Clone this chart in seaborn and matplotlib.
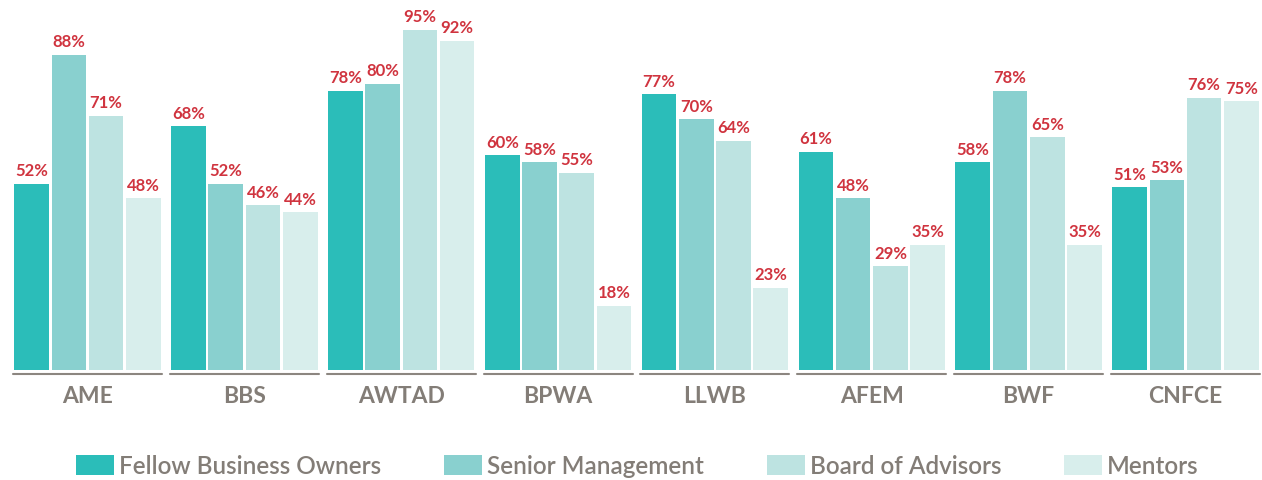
import pandas as pd
import seaborn as sns
from matplotlib import pyplot as plt

# values (percent)
groups = ['AME', 'BBS', 'AWTAD', 'BPWA', 'LLWB', 'AFEM', 'BWF', 'CNFCE']
sources = ['Fellow Business Owners', 'Senior Management', 'Board of Advisors', 'Mentors']
fellow_owners = [52, 68, 78, 60, 77, 61, 58, 51]
senior_mgmt = [88, 52, 80, 58, 70, 48, 78, 53]
board_advisors = [71, 46, 95, 55, 64, 29, 65, 76]
mentors = [48, 44, 92, 18, 23, 35, 35, 75]

colors = ['#2bbdb9', '#89d0cf', '#bde3e1', '#d8eeec']
red = '#d0343f'
gray = '#837d77'

rows = []
for src, vals in zip(sources, [fellow_owners, senior_mgmt, board_advisors, mentors]):
    for g, v in zip(groups, vals):
        rows.append({'group': g, 'source': src, 'value': v})
df = pd.DataFrame(rows)

sns.set_style('white')
plt.rcParams['font.family'] = ['Lato', 'DejaVu Sans']

fig = plt.figure(figsize=(12.62, 4.81), dpi=100)
ax = fig.add_axes([13/1262, 110/481, 1247/1262, 371/481])

sns.barplot(data=df, x='group', y='value', hue='source', order=groups,
            hue_order=sources, palette=colors, width=0.95, gap=0.07,
            saturation=1, linewidth=0, ax=ax)

for cont in ax.containers:
    ax.bar_label(cont, fmt='{:.0f}%', padding=4, color=red,
                 fontsize=12, fontweight='bold')

ax.set_xlim(-0.475, len(groups) - 0.525)
ax.set_ylim(0, 103.6)
sns.despine(ax=ax, left=True, bottom=True)
ax.set_yticks([])
ax.set_xlabel('')
ax.set_ylabel('')
ax.tick_params(axis='x', length=0, pad=11)
ax.set_xticks(range(len(groups)))
ax.set_xticklabels(groups, fontsize=16.5, fontweight='bold', color=gray)

# separate underline below each group
trans = ax.get_xaxis_transform()
for i in range(len(groups)):
    ax.plot([i - 0.475, i + 0.475], [-0.011, -0.011], transform=trans,
            color='#8c8680', linewidth=1.5, clip_on=False)

handles, labels = ax.get_legend_handles_labels()
ax.get_legend().remove()
leg = fig.legend(handles, labels, loc='center', bbox_to_anchor=(0.505, 0.03),
                 ncol=4, frameon=False, handlelength=1.56,
                 handleheight=0.9, handletextpad=0.2, columnspacing=2.6,
                 prop={'size': 17.5, 'weight': 'semibold'})
for t in leg.get_texts():
    t.set_color(gray)

fig.savefig('out.png', dpi=100)
